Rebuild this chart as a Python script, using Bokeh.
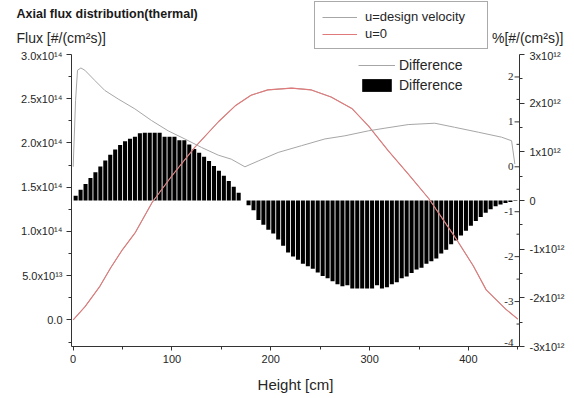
from bokeh.plotting import figure
from bokeh.layouts import column
from bokeh.models import (Range1d, LinearAxis, FixedTicker, Legend, LegendItem,
                          Label, LabelSet, ColumnDataSource)
from bokeh.embed import file_html
from bokeh.resources import INLINE

# ---------------- data ----------------
# u = 0 axial flux, units of 1e14 #/(cm^2 s)
height_u0 = [0, 12, 27, 38, 49, 63, 80, 100, 123, 147, 164, 180, 197, 221, 241,
             261, 282, 299, 319, 339, 360, 388, 405, 418, 438, 450]
flux_u0 = [0.00, 0.15, 0.38, 0.59, 0.78, 0.99, 1.33, 1.63, 1.95, 2.24, 2.42, 2.54,
           2.60, 2.62, 2.60, 2.52, 2.39, 2.19, 1.91, 1.65, 1.37, 0.91, 0.61, 0.34,
           0.12, 0.01]
# u = design velocity (drawn under the u=0 curve, indistinguishable)
height_design = height_u0
flux_design = flux_u0

# percentage difference (gray line), %
height_pct = [0, 2.4, 4.4, 7.8, 11.8, 22, 32, 45.5, 62.4, 79.3, 96.2, 113, 130,
              146.8, 160, 173.8, 187.3, 207.5, 231, 254.7, 275, 298.6, 315.5, 339,
              366, 386, 410, 433.5, 443.7, 447]
diff_pct = [0.0, 1.47, 2.15, 2.20, 2.15, 1.92, 1.70, 1.51, 1.29, 1.03, 0.80, 0.62,
            0.43, 0.26, 0.17, 0.0, 0.13, 0.32, 0.47, 0.62, 0.69, 0.80, 0.86, 0.94,
            0.97, 0.88, 0.77, 0.66, 0.58, 0.06]

# absolute difference bars, units of 1e12 #/(cm^2 s), 5 cm bins
bar_height_cm = [2.5, 7.5, 12.5, 17.5, 22.5, 27.5, 32.5, 37.5, 42.5, 47.5,
                 52.5, 57.5, 62.5, 67.5, 72.5, 77.5, 82.5, 87.5, 92.5, 97.5,
                 102.5, 107.5, 112.5, 117.5, 122.5, 127.5, 132.5, 137.5, 142.5, 147.5,
                 152.5, 157.5, 162.5, 167.5, 172.5, 177.5, 182.5, 187.5, 192.5, 197.5,
                 202.5, 207.5, 212.5, 217.5, 222.5, 227.5, 232.5, 237.5, 242.5, 247.5,
                 252.5, 257.5, 262.5, 267.5, 272.5, 277.5, 282.5, 287.5, 292.5, 297.5,
                 302.5, 307.5, 312.5, 317.5, 322.5, 327.5, 332.5, 337.5, 342.5, 347.5,
                 352.5, 357.5, 362.5, 367.5, 372.5, 377.5, 382.5, 387.5, 392.5, 397.5,
                 402.5, 407.5, 412.5, 417.5, 422.5, 427.5, 432.5, 437.5, 442.5, 447.5]
diff_abs = [0.10, 0.22, 0.34, 0.46, 0.58, 0.70, 0.82, 0.94, 1.05, 1.14,
            1.22, 1.27, 1.31, 1.38, 1.39, 1.39, 1.39, 1.39, 1.31, 1.31,
            1.31, 1.24, 1.24, 1.15, 1.06, 0.98, 0.90, 0.81, 0.71, 0.61,
            0.51, 0.40, 0.28, 0.16, 0.00, -0.10, -0.20, -0.40, -0.50, -0.60,
            -0.68, -0.80, -0.93, -1.07, -1.15, -1.22, -1.30, -1.35, -1.40, -1.48,
            -1.55, -1.60, -1.66, -1.72, -1.76, -1.74, -1.81, -1.81, -1.81, -1.81,
            -1.81, -1.74, -1.81, -1.78, -1.72, -1.68, -1.60, -1.56, -1.49, -1.42,
            -1.38, -1.30, -1.25, -1.19, -1.09, -1.01, -0.90, -0.82, -0.72, -0.62,
            -0.52, -0.42, -0.34, -0.25, -0.18, -0.12, -0.08, -0.05, -0.03, -0.01]

# ticks
x_ticks = [0, 100, 200, 300, 400]
x_minor = [50, 150, 250, 350, 450]
flux_ticks = [0.0, 0.5, 1.0, 1.5, 2.0, 2.5, 3.0]
flux_labels = ["0.0", "5.0x10\u00b9\u00b3", "1.0x10\u00b9\u2074", "1.5x10\u00b9\u2074",
               "2.0x10\u00b9\u2074", "2.5x10\u00b9\u2074", "3.0x10\u00b9\u2074"]
flux_minor = [-0.25, 0.25, 0.75, 1.25, 1.75, 2.25, 2.75]
abs_ticks = [-3, -2, -1, 0, 1, 2, 3]
abs_labels = ["-3x10\u00b9\u00b2", "-2x10\u00b9\u00b2", "-1x10\u00b9\u00b2", "0",
              "1x10\u00b9\u00b2", "2x10\u00b9\u00b2", "3x10\u00b9\u00b2"]
abs_minor = [-2.5, -1.5, -0.5, 0.5, 1.5, 2.5]
pct_ticks = [-4, -3, -2, -1, 0, 1, 2]
pct_labels = ["-4", "-3", "-2", "-1", "0", "1", "2"]
pct_label_lift = [4, 0, 0, 0, 0, 0, 0]
pct_minor = [-3.5, -2.5, -1.5, -0.5, 0.5, 1.5]

FONT = "Liberation Sans"
TXT = "#262626"
AX = "#333333"
X0, X1 = -1.7, 451.7
W = 574
HEAD_H = 49

# ---------------- header strip (titles + main legend) ----------------
head = figure(width=W, height=HEAD_H, x_range=Range1d(0, W), y_range=Range1d(HEAD_H, 0),
              x_axis_type=None, y_axis_type=None, output_backend="svg",
              toolbar_location=None, min_border=0, min_border_left=0,
              min_border_right=0, min_border_top=0, min_border_bottom=0,
              background_fill_color="white", border_fill_color="white")
head.outline_line_color = None
head.xgrid.visible = False
head.ygrid.visible = False
h_design = head.line(height_design, flux_design, line_color="#a6a6a6", line_width=1,
                     visible=False)
h_u0 = head.line(height_u0, flux_u0, line_color="#e07a7a", line_width=1.1,
                 visible=False)
leg1 = Legend(items=[LegendItem(label="u=design velocity", renderers=[h_design]),
                     LegendItem(label="u=0", renderers=[h_u0])],
              location=(314, 0), orientation="vertical",
              padding=7, spacing=2, margin=0,
              glyph_width=35, glyph_height=14, label_height=14, label_width=115,
              label_standoff=8, label_text_font=FONT, label_text_font_size="13px",
              label_text_color=TXT, border_line_color="#555555", border_line_width=1,
              background_fill_color="white", background_fill_alpha=1,
              inactive_fill_alpha=0)
head.add_layout(leg1)
head.add_layout(Label(x=16, y=13, text="Axial flux distribution(thermal)",
                      text_baseline="middle", text_font=FONT, text_font_size="12.5px",
                      text_font_style="bold", text_color="#1a1a1a"))
head.add_layout(Label(x=16, y=37, text="Flux [#/(cm\u00b2s)]", text_baseline="middle",
                      text_font=FONT, text_font_size="14px", text_color=TXT))
head.add_layout(Label(x=563, y=37, text="%[#/(cm\u00b2s)]", text_baseline="middle",
                      text_align="right", text_font=FONT, text_font_size="14px",
                      text_color=TXT))

# ---------------- main plot ----------------
p = figure(frame_width=448, frame_height=292,
           x_range=Range1d(X0, X1), y_range=Range1d(-0.3, 3.0),
           output_backend="svg", toolbar_location=None,
           min_border_left=71, min_border_top=5, min_border_right=55,
           min_border_bottom=52, background_fill_color="white",
           border_fill_color="white")
p.outline_line_color = None
p.xgrid.visible = False
p.ygrid.visible = False
p.extra_y_ranges = {"pct": Range1d(-4, 2.5), "abs": Range1d(-3, 3)}

# keep the two canvases from aligning their frames
for fig in (head, p):
    try:
        fig.frame_align = False
    except Exception:
        pass

# left axis
ya = p.yaxis[0]
ya.ticker = FixedTicker(ticks=flux_ticks, minor_ticks=flux_minor)
ya.major_label_overrides = dict(zip(flux_ticks, flux_labels))
ya.major_tick_out = 5
ya.major_tick_in = 0
ya.minor_tick_out = 3
ya.minor_tick_in = 0
ya.major_label_standoff = 4
ya.major_label_text_font = FONT
ya.major_label_text_font_size = "11px"
ya.major_label_text_color = TXT
ya.axis_line_color = AX
ya.major_tick_line_color = AX
ya.minor_tick_line_color = AX

# bottom axis
xa = p.xaxis[0]
xa.ticker = FixedTicker(ticks=x_ticks, minor_ticks=x_minor)
xa.major_tick_out = 4
xa.major_tick_in = 0
xa.minor_tick_out = 3
xa.minor_tick_in = 0
xa.major_label_standoff = 4
xa.major_label_text_font = FONT
xa.major_label_text_font_size = "11px"
xa.major_label_text_color = TXT
xa.axis_label = "Height [cm]"
xa.axis_label_text_font = FONT
xa.axis_label_text_font_size = "15px"
xa.axis_label_text_font_style = "normal"
xa.axis_label_text_color = TXT
xa.axis_label_standoff = 10
xa.axis_line_color = AX
xa.major_tick_line_color = AX
xa.minor_tick_line_color = AX

# right axis (absolute difference)
ra = LinearAxis(y_range_name="abs",
                ticker=FixedTicker(ticks=abs_ticks, minor_ticks=abs_minor))
ra.major_label_overrides = dict(zip(abs_ticks, abs_labels))
ra.major_tick_out = 5
ra.major_tick_in = 0
ra.minor_tick_out = 3
ra.minor_tick_in = 0
ra.major_label_standoff = 5
ra.major_label_text_font = FONT
ra.major_label_text_font_size = "11px"
ra.major_label_text_color = TXT
ra.axis_line_color = AX
ra.major_tick_line_color = AX
ra.minor_tick_line_color = AX
p.add_layout(ra, "right")

# bars (absolute difference)
bars = p.vbar(x=bar_height_cm, top=diff_abs, bottom=0, width=4.1,
              y_range_name="abs", fill_color="black", line_color=None)

# lines
design = p.line(height_design, flux_design, line_color="#a6a6a6", line_width=1)
u0 = p.line(height_u0, flux_u0, line_color="#e07a7a", line_width=1.1)
pct = p.line(height_pct, diff_pct, line_color="#a6a6a6", line_width=1,
             y_range_name="pct")

# inner percent axis (ticks pointing into the frame, labels inside)
p.segment(x0=[X1 - 5] * len(pct_ticks), x1=[X1] * len(pct_ticks),
          y0=pct_ticks, y1=pct_ticks, y_range_name="pct", line_color=AX)
p.segment(x0=[X1 - 3] * len(pct_minor), x1=[X1] * len(pct_minor),
          y0=pct_minor, y1=pct_minor, y_range_name="pct", line_color=AX)
pct_src = ColumnDataSource(dict(x=[X1] * len(pct_ticks), y=pct_ticks, t=pct_labels,
                                dy=pct_label_lift))
p.add_layout(LabelSet(x="x", y="y", text="t", source=pct_src, y_range_name="pct",
                      x_offset=-6, y_offset="dy", text_align="right",
                      text_baseline="middle", text_font=FONT, text_font_size="11px",
                      text_color=TXT))

leg2 = Legend(items=[LegendItem(label="Difference", renderers=[pct]),
                     LegendItem(label="Difference", renderers=[bars])],
              location=(287, 253), orientation="vertical",
              padding=0, spacing=4, margin=0,
              glyph_width=37, glyph_height=16, label_height=16,
              label_standoff=4, label_text_font=FONT, label_text_font_size="14px",
              label_text_color=TXT, border_line_color=None,
              background_fill_alpha=0)
p.add_layout(leg2)

root = column(head, p, spacing=0)
open("out.html", "w").write(file_html(root, INLINE))
